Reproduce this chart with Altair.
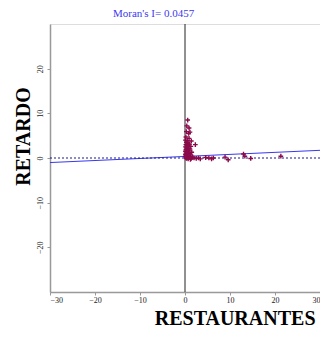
import altair as alt
import pandas as pd

# Scatter points (RESTAURANTES vs spatial lag RETARDO)
xs = [0.6, 0.4, 0.9, 0.3, 1.1, 0.8, 0.2, 0.9, 1.4, 2.3, 0.1, 0.5, 0.3, 0.7, 1.0, 0.2, 0.5, 1.3,
      0.1, 0.4, 0.8, 1.1, 0.2, 0.6, 0.9, 0.1, 0.4, 1.5, 0.7, 0.2, 1.0, 0.5, 0.1, 1.3, 0.3, 0.8,
      0.1, 0.6, 1.1, 1.7, 0.2, 0.5, 0.9, 1.4, 2.0, 2.5, 3.0, 3.4, 0.3, 0.7, 1.2,
      4.6, 5.3, 5.9, 6.3, 8.9, 9.6, 13.0, 13.3, 14.6, 21.3]
ys = [8.5, 7.2, 6.7, 5.9, 5.8, 5.5, 4.7, 4.4, 3.8, 3.0, 4.0, 3.9, 3.5, 3.3, 3.1, 3.0, 2.8, 2.6,
      2.5, 2.3, 2.2, 2.0, 1.9, 1.8, 1.6, 1.5, 1.4, 1.3, 1.2, 1.1, 1.0, 0.9, 0.8, 0.7, 0.6, 0.5,
      0.4, 0.3, 0.3, 0.2, 0.1, 0.0, 0.1, -0.1, 0.0, -0.1, 0.0, -0.2, -0.1, -0.2, -0.3,
      0.1, 0.0, -0.2, 0.0, 0.2, -0.4, 0.9, 0.4, -0.1, 0.4]

moran_i = 0.0457
intercept = 0.35
line_x = [-30, 30]
x_ticks = [-30, -20, -10, 0, 10, 20, 30]
y_ticks = [-20, -10, 0, 10, 20]

pts = pd.DataFrame({"x": xs, "y": ys})
reg = pd.DataFrame({"x": line_x, "y": [intercept + moran_i * v for v in line_x]})

serif = "Liberation Serif"

xscale = alt.Scale(domain=[-30, 30], nice=False, zero=False)
yscale = alt.Scale(domain=[-30, 30], nice=False, zero=False)

xaxis = alt.Axis(values=x_ticks, title="RESTAURANTES", grid=False,
                 labelFont=serif, labelFontSize=8, labelColor="#222",
                 domainColor="#999", domainWidth=1.5, tickColor="#999", tickSize=3,
                 labelPadding=1,
                 titleFont=serif, titleFontSize=20, titleFontWeight="bold", titleColor="#000",
                 titleAnchor="end", titleAlign="right", titleX=265, titleY=32,
                 titleBaseline="alphabetic")
yaxis = alt.Axis(values=y_ticks, title="RETARDO", grid=False,
                 labelFont=serif, labelFontSize=8, labelColor="#222", labelAngle=270,
                 labelAlign="center", labelBaseline="bottom", labelPadding=3,
                 domainColor="#999", domainWidth=1.5, tickColor="#999", tickSize=3,
                 titleFont=serif, titleFontSize=20, titleFontWeight="bold", titleColor="#000",
                 titleAngle=270, titleAlign="center", titleBaseline="middle",
                 titleX=-27, titleY=112)

points = alt.Chart(pts).mark_point(shape="M-1,0L1,0M0,-1L0,1", filled=False, size=22,
                                   strokeWidth=1.4, color="#8b0a4a", opacity=1).encode(
    x=alt.X("x:Q", scale=xscale, axis=xaxis),
    y=alt.Y("y:Q", scale=yscale, axis=yaxis),
)

zero_h = alt.Chart(pd.DataFrame({"y": [0]})).mark_rule(
    color="#1a1a8c", strokeDash=[2, 2], strokeWidth=1.2).encode(
    y=alt.Y("y:Q", scale=yscale))
zero_v = alt.Chart(pd.DataFrame({"x": [0]})).mark_rule(
    color="#222", strokeWidth=1).encode(
    x=alt.X("x:Q", scale=xscale))

regline = alt.Chart(reg).mark_line(color="#3838f0", strokeWidth=1, clip=True).encode(
    x=alt.X("x:Q", scale=xscale),
    y=alt.Y("y:Q", scale=yscale))

chart = alt.layer(zero_v, regline, zero_h, points).properties(
    width=270, height=268,
    title=alt.TitleParams(text="Moran's I= 0.0457", font=serif, fontSize=11,
                          fontWeight="normal", color="#3a3aee", anchor="start",
                          frame="group", dx=63, offset=5),
    autosize=alt.AutoSizeParams(type="none"),
    padding={"left": 42, "top": 16, "right": 0, "bottom": 38},
).configure_view(stroke="#999", strokeWidth=1.5).configure(background="white")

chart.save("out.html", embed_options={"renderer": "svg", "actions": False})
